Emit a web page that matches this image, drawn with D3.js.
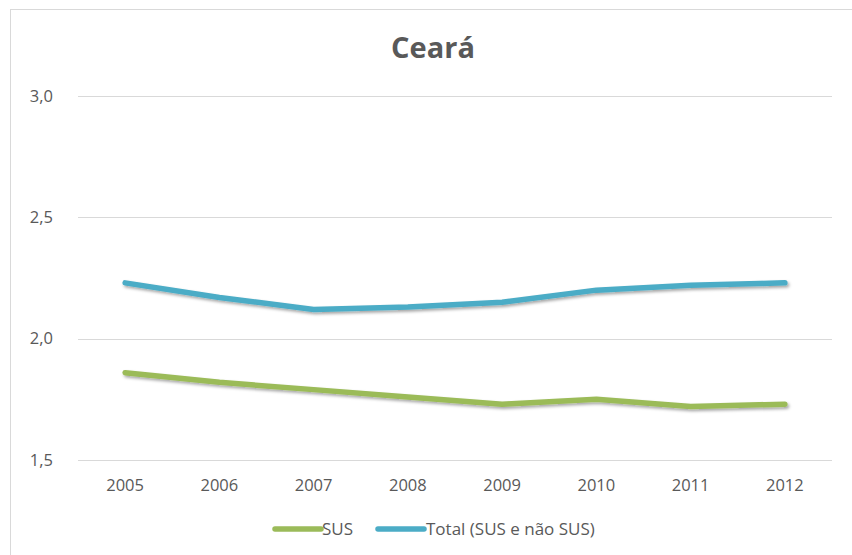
<!DOCTYPE html>
<html>
<head>
<meta charset="utf-8">
<script src="https://cdn.jsdelivr.net/npm/d3@7/dist/d3.min.js"></script>
<style>
html,body{margin:0;padding:0;background:#fff;}
svg{display:block;}
text{font-family:"Open Sans","Noto Sans",sans-serif;fill:#595959;}
</style>
</head>
<body>
<div id="chart"></div>
<script>
const title = "Ceará";
const years = ["2005","2006","2007","2008","2009","2010","2011","2012"];
const susValues = [1.86, 1.82, 1.79, 1.76, 1.73, 1.75, 1.72, 1.73];
const totalValues = [2.23, 2.17, 2.12, 2.13, 2.15, 2.20, 2.22, 2.23];
const yTicks = [1.5, 2.0, 2.5, 3.0];
const seriesNames = ["SUS", "Total (SUS e não SUS)"];
const seriesColors = ["#9BBB59", "#4BACC6"];

const W = 852, H = 555;
const svg = d3.select("#chart").append("svg").attr("width", W).attr("height", H);

const defs = svg.append("defs");
const f = defs.append("filter").attr("id","shadow").attr("x","-10%").attr("y","-50%").attr("width","120%").attr("height","200%");
f.append("feDropShadow").attr("dx",1.5).attr("dy",2).attr("stdDeviation",1.5).attr("flood-color","#000").attr("flood-opacity",0.35);

// chart border
svg.append("rect").attr("x",10.5).attr("y",9.5).attr("width",W+20).attr("height",H+20)
  .attr("fill","none").attr("stroke","#d9d9d9").attr("stroke-width",1);

const x = d3.scaleBand().domain(years).range([78, 832]).padding(0);
const y = d3.scaleLinear().domain([1.5, 3.0]).range([460, 96]);

// gridlines
svg.append("g").selectAll("line").data(yTicks).join("line")
  .attr("x1", 78).attr("x2", 832)
  .attr("y1", d => Math.round(y(d)) + 0.5).attr("y2", d => Math.round(y(d)) + 0.5)
  .attr("stroke", "#d9d9d9").attr("stroke-width", 1);

// y axis labels
const fmt = d => d3.format(".1f")(d).replace(".", ",");
svg.append("g").selectAll("text").data(yTicks).join("text")
  .attr("x", 53).attr("y", d => y(d)).attr("dy","0.35em")
  .attr("text-anchor","end").attr("font-size",16.5)
  .text(fmt);

// x axis labels
svg.append("g").selectAll("text").data(years).join("text")
  .attr("x", d => x(d) + x.bandwidth()/2).attr("y", 485).attr("dy","0.35em")
  .attr("text-anchor","middle").attr("font-size",16.5)
  .text(d => d);

// title
svg.append("text").attr("x", 433).attr("y", 58).attr("text-anchor","middle")
  .attr("font-size",29).attr("font-weight","bold").text(title);

// lines
const line = d3.line().x((d,i) => x(years[i]) + x.bandwidth()/2).y(d => y(d));
[susValues, totalValues].forEach((vals, k) => {
  svg.append("path").datum(vals).attr("d", line)
    .attr("fill","none").attr("stroke", seriesColors[k]).attr("stroke-width",5.5)
    .attr("stroke-linecap","round").attr("stroke-linejoin","round")
    .attr("filter","url(#shadow)");
});

// legend
const legendItems = [{x1:275, x2:321, tx:322}, {x1:378, x2:424, tx:426}];
legendItems.forEach((it, k) => {
  svg.append("line").attr("x1", it.x1).attr("x2", it.x2).attr("y1", 529).attr("y2", 529)
    .attr("stroke", seriesColors[k]).attr("stroke-width",5.5).attr("stroke-linecap","round");
  svg.append("text").attr("x", it.tx).attr("y", 529).attr("dy","0.35em")
    .attr("font-size",17).text(seriesNames[k]);
});
</script>
</body>
</html>
